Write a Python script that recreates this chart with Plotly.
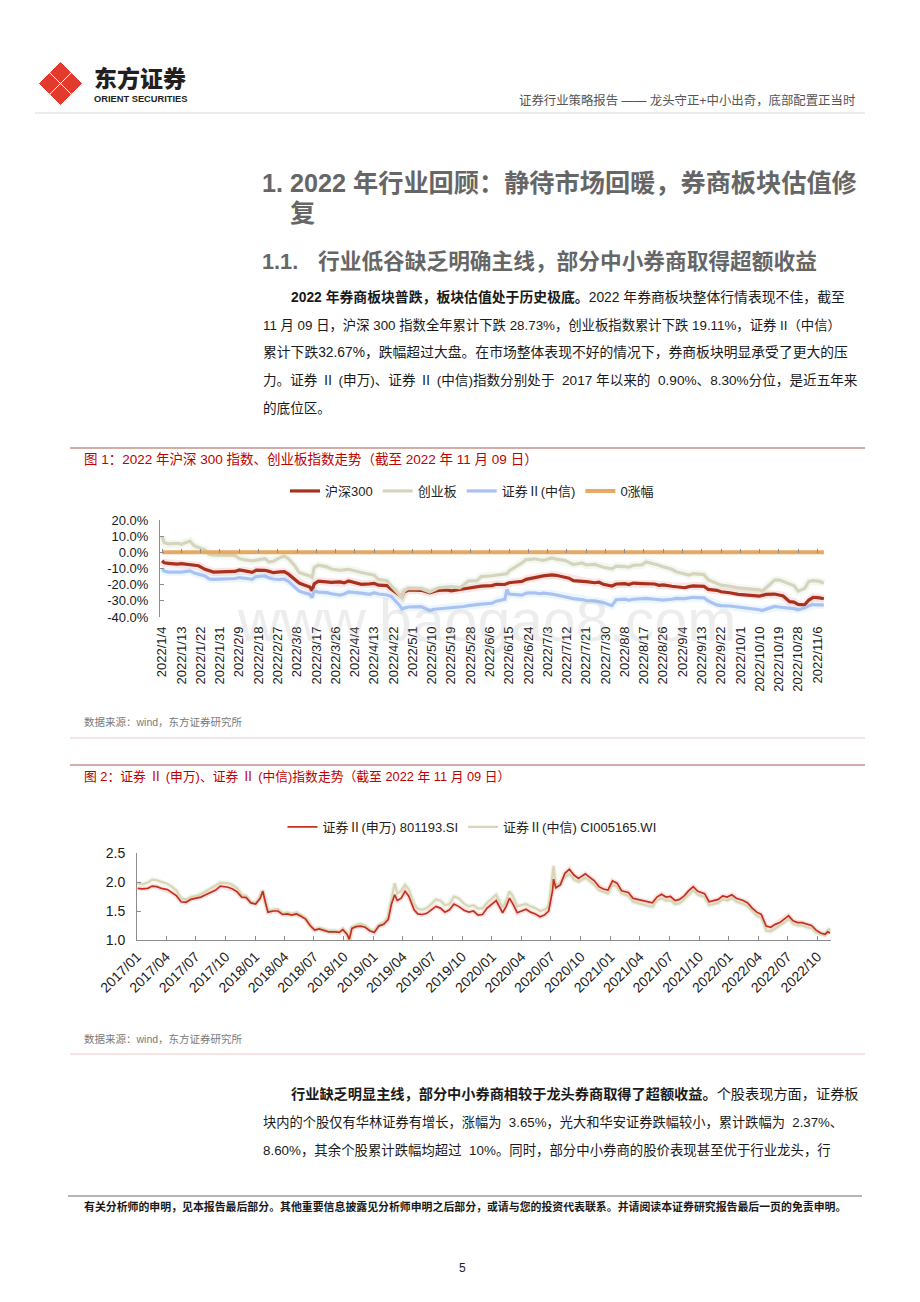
import datetime as dt
import plotly.graph_objects as go

# page is 920x1302; the figure sits 8px in from the top-left corner of the page
OFF = 8
W, H = 920 - OFF, 1302 - OFF
def fx(p): return (p - OFF) / W
def fy(p): return 1 - (p - OFF) / H

TXT = "Liberation Sans, Noto Sans CJK SC"
CJK = "Noto Sans CJK SC, Liberation Sans"

# ---------------- Chart 1 data (2022, % change) ----------------
c1_dates = [
 "2022-01-04","2022-01-05","2022-01-07","2022-01-11","2022-01-13","2022-01-17","2022-01-19","2022-01-21","2022-01-24","2022-01-26","2022-01-28",
 "2022-02-07","2022-02-09","2022-02-11","2022-02-15","2022-02-17","2022-02-21","2022-02-23","2022-02-25","2022-02-28",
 "2022-03-02","2022-03-04","2022-03-07","2022-03-09","2022-03-11","2022-03-14","2022-03-15","2022-03-16","2022-03-18","2022-03-22","2022-03-24","2022-03-28","2022-03-30",
 "2022-04-01","2022-04-07","2022-04-11","2022-04-13","2022-04-15","2022-04-19","2022-04-21","2022-04-25","2022-04-26","2022-04-27","2022-04-29",
 "2022-05-05","2022-05-09","2022-05-11","2022-05-13","2022-05-17","2022-05-19","2022-05-23","2022-05-25","2022-05-27","2022-05-31",
 "2022-06-02","2022-06-07","2022-06-09","2022-06-13","2022-06-14","2022-06-15","2022-06-17","2022-06-21","2022-06-23","2022-06-27","2022-06-29",
 "2022-07-01","2022-07-05","2022-07-07","2022-07-11","2022-07-13","2022-07-15","2022-07-19","2022-07-21","2022-07-25","2022-07-27","2022-07-29",
 "2022-08-02","2022-08-04","2022-08-08","2022-08-10","2022-08-12","2022-08-16","2022-08-18","2022-08-22","2022-08-24","2022-08-26","2022-08-30",
 "2022-09-01","2022-09-05","2022-09-07","2022-09-09","2022-09-14","2022-09-16","2022-09-20","2022-09-22","2022-09-26","2022-09-28","2022-09-30",
 "2022-10-10","2022-10-11","2022-10-13","2022-10-17","2022-10-19","2022-10-21","2022-10-24","2022-10-26","2022-10-28","2022-10-31",
 "2022-11-02","2022-11-04","2022-11-07","2022-11-09",
]
hs300 = [
 -5.2, -6.5, -6.8, -7.3, -7.0, -7.6, -7.9, -8.3, -10.5, -11.6, -12.2,
 -11.8, -10.9, -11.3, -12.4, -11.0, -11.1, -11.8, -12.6, -12.1,
 -12.0, -13.5, -16.5, -19.0, -20.0, -21.5, -23.8, -19.5, -17.8, -18.3, -18.6, -18.3, -18.9,
 -17.7, -19.8, -19.5, -19.2, -20.3, -20.6, -22.8, -26.3, -27.5, -24.5, -23.3,
 -23.5, -25.0, -24.2, -23.6, -23.3, -23.8, -23.0, -22.6, -21.8, -21.2,
 -20.9, -20.6, -19.8, -19.9, -19.4, -18.8, -18.5, -18.0, -16.7, -15.6, -15.0,
 -14.6, -14.0, -14.2, -15.4, -16.0, -17.5, -17.6, -18.1, -18.8, -18.5, -19.8,
 -20.8, -19.6, -19.4, -19.9, -19.0, -19.3, -19.4, -19.6, -20.4, -20.1, -21.0,
 -21.3, -21.9, -21.2, -20.8, -21.0, -22.9, -23.5, -24.4, -25.0, -25.6, -26.0,
 -27.1, -26.8, -26.0, -25.8, -26.2, -27.0, -30.5, -30.8, -32.2, -32.5,
 -29.5, -27.8, -28.2, -28.73,
]
chinext = [
 9.7, 6.0, 5.2, 5.6, 5.0, 7.0, 4.0, 3.2, 1.5, -1.2, -1.8,
 -1.9, -3.9, -4.5, -5.3, -4.8, -3.9, -6.0, -5.5, -3.3,
 -2.3, -4.0, -8.4, -12.5, -13.2, -14.6, -15.6, -9.4, -8.0, -9.0, -10.3, -11.1, -10.8,
 -10.5, -12.5, -13.6, -14.2, -16.7, -17.6, -20.8, -26.2, -28.0, -23.9, -22.3,
 -22.5, -24.5, -23.4, -22.0, -21.5, -21.2, -22.0, -20.0, -17.8, -17.5,
 -15.0, -14.5, -14.0, -13.5, -13.2, -11.5, -10.0, -6.5, -4.5, -4.0, -4.6,
 -5.0, -3.5, -4.2, -5.0, -6.2, -7.5, -6.5, -7.8, -7.5, -8.3, -9.2,
 -10.2, -8.5, -8.8, -9.2, -8.0, -7.8, -6.0, -7.0, -8.0, -9.0, -10.5,
 -12.0, -13.0, -14.0, -13.2, -13.8, -17.0, -19.5, -20.3, -21.0, -21.6, -22.0,
 -23.2, -24.0, -22.0, -17.2, -17.0, -18.0, -19.0, -20.5, -24.0, -22.3,
 -18.0, -17.5, -18.0, -19.11,
]
broker_citic = [
 -10.1, -11.6, -12.3, -12.5, -12.2, -11.5, -12.8, -13.5, -14.6, -16.4, -16.7,
 -16.2, -15.6, -15.9, -16.7, -15.0, -14.6, -15.8, -16.5, -16.7,
 -16.5, -18.0, -21.5, -24.0, -24.8, -26.0, -28.0, -24.0, -24.6, -24.9, -25.6, -26.5, -25.8,
 -24.5, -25.2, -26.0, -25.0, -25.8, -26.4, -27.3, -33.0, -35.1, -34.5, -33.8,
 -33.6, -36.0, -35.2, -35.0, -34.6, -34.2, -33.6, -33.5, -33.0, -32.2,
 -32.0, -31.5, -30.2, -29.0, -23.0, -25.8, -26.0, -26.5, -25.2, -25.0, -25.6,
 -25.2, -25.8, -26.4, -27.2, -27.8, -28.6, -29.2, -29.8, -30.0, -30.4, -31.0,
 -33.0, -29.3, -29.0, -29.6, -29.0, -28.8, -28.5, -29.0, -29.3, -29.5, -29.0,
 -28.5, -28.6, -28.0, -27.8, -28.2, -30.0, -32.5, -33.0, -33.2, -33.5, -33.8,
 -35.5, -36.0, -35.0, -33.5, -33.8, -34.0, -34.6, -34.8, -35.5, -34.5,
 -33.0, -32.3, -32.5, -32.67,
]
zero_pct = [0.0 for _ in c1_dates]

c1_ticklabels = ["2022/1/4","2022/1/13","2022/1/22","2022/1/31","2022/2/9","2022/2/18","2022/2/27",
 "2022/3/8","2022/3/17","2022/3/26","2022/4/4","2022/4/13","2022/4/22","2022/5/1","2022/5/10",
 "2022/5/19","2022/5/28","2022/6/6","2022/6/15","2022/6/24","2022/7/3","2022/7/12","2022/7/21",
 "2022/7/30","2022/8/8","2022/8/17","2022/8/26","2022/9/4","2022/9/13","2022/9/22","2022/10/1",
 "2022/10/10","2022/10/19","2022/10/28","2022/11/6"]
c1_tickvals = [dt.datetime.strptime(s, "%Y/%m/%d").strftime("%Y-%m-%d") for s in c1_ticklabels]
c1_yticks = [-40, -30, -20, -10, 0, 10, 20]
c1_yticklabels = ["-40.0%", "-30.0%", "-20.0%", "-10.0%", "0.0%", "10.0%", "20.0%"]

# ---------------- Chart 2 data (index level) ----------------
c2_dates = [
 "2017-01-03","2017-01-17","2017-02-03","2017-02-17","2017-03-03","2017-03-17","2017-04-05","2017-04-18","2017-05-03","2017-05-17","2017-06-01","2017-06-16",
 "2017-07-03","2017-07-17","2017-08-01","2017-08-16","2017-09-01","2017-09-15","2017-10-09","2017-10-23","2017-11-06","2017-11-20","2017-12-04","2017-12-18",
 "2018-01-02","2018-01-16","2018-01-24","2018-02-01","2018-02-09","2018-02-26","2018-03-12","2018-03-26","2018-04-09","2018-04-23","2018-05-08","2018-05-22","2018-06-05","2018-06-19",
 "2018-07-03","2018-07-17","2018-08-01","2018-08-15","2018-09-03","2018-09-17","2018-09-28","2018-10-11","2018-10-18","2018-10-26","2018-11-08","2018-11-22","2018-12-06","2018-12-20",
 "2019-01-03","2019-01-17","2019-02-01","2019-02-15","2019-02-25","2019-03-07","2019-03-15","2019-03-27","2019-04-08","2019-04-19","2019-05-06","2019-05-17","2019-05-31","2019-06-14",
 "2019-06-28","2019-07-12","2019-07-26","2019-08-09","2019-08-23","2019-09-06","2019-09-20","2019-10-08","2019-10-22","2019-11-05","2019-11-19","2019-12-03","2019-12-17",
 "2020-01-02","2020-01-14","2020-02-03","2020-02-14","2020-02-24","2020-03-06","2020-03-19","2020-04-01","2020-04-15","2020-04-29","2020-05-14","2020-05-28","2020-06-11","2020-06-24",
 "2020-07-06","2020-07-09","2020-07-16","2020-07-30","2020-08-13","2020-08-27","2020-09-10","2020-09-24","2020-10-15","2020-10-29","2020-11-12","2020-11-26","2020-12-10","2020-12-24",
 "2021-01-07","2021-01-21","2021-02-04","2021-02-25","2021-03-11","2021-03-25","2021-04-08","2021-04-22","2021-05-10","2021-05-24","2021-06-07","2021-06-21","2021-07-05",
 "2021-07-19","2021-08-02","2021-08-16","2021-08-30","2021-09-13","2021-09-27","2021-10-18","2021-11-01","2021-11-15","2021-11-29","2021-12-13","2021-12-27",
 "2022-01-10","2022-01-24","2022-02-14","2022-02-28","2022-03-14","2022-03-28","2022-04-11","2022-04-26","2022-05-10","2022-05-24","2022-06-07","2022-06-21",
 "2022-07-04","2022-07-18","2022-08-01","2022-08-15","2022-08-29","2022-09-13","2022-09-27","2022-10-11","2022-10-25","2022-11-02","2022-11-09",
]
broker_sw = [
 1.89,1.88,1.89,1.93,1.92,1.89,1.87,1.82,1.76,1.66,1.65,1.70,
 1.72,1.74,1.78,1.82,1.86,1.93,1.91,1.88,1.83,1.74,1.73,1.64,
 1.62,1.72,1.84,1.65,1.48,1.50,1.50,1.44,1.45,1.43,1.45,1.41,1.36,1.25,
 1.17,1.19,1.16,1.14,1.14,1.13,1.18,1.10,1.01,1.20,1.23,1.24,1.22,1.16,
 1.13,1.24,1.27,1.35,1.62,1.78,1.68,1.72,1.84,1.76,1.52,1.45,1.44,1.46,
 1.52,1.58,1.55,1.48,1.52,1.62,1.58,1.51,1.48,1.50,1.43,1.44,1.55,
 1.62,1.68,1.47,1.58,1.72,1.62,1.47,1.50,1.53,1.48,1.45,1.40,1.43,1.50,
 1.85,2.05,1.90,1.95,2.15,2.22,2.12,2.06,2.14,2.08,2.02,1.92,1.88,1.86,
 2.02,1.98,1.85,1.82,1.72,1.70,1.68,1.66,1.64,1.74,1.79,1.74,1.75,
 1.68,1.70,1.76,1.85,1.92,1.84,1.80,1.66,1.68,1.70,1.76,1.74,
 1.78,1.72,1.68,1.64,1.55,1.48,1.44,1.24,1.22,1.27,1.30,1.36,
 1.42,1.33,1.30,1.30,1.27,1.25,1.17,1.12,1.10,1.14,1.12,
]
broker_citic_idx = [
 1.98,1.96,1.99,2.04,2.03,2.00,1.97,1.92,1.85,1.72,1.70,1.74,
 1.76,1.79,1.84,1.88,1.93,1.99,1.98,1.95,1.89,1.78,1.76,1.66,
 1.64,1.74,1.86,1.67,1.50,1.52,1.53,1.46,1.47,1.45,1.47,1.43,1.38,1.26,
 1.18,1.21,1.18,1.16,1.16,1.15,1.19,1.10,1.01,1.22,1.26,1.28,1.25,1.18,
 1.15,1.26,1.30,1.40,1.70,1.98,1.80,1.85,1.95,1.88,1.62,1.54,1.52,1.55,
 1.62,1.70,1.68,1.60,1.62,1.75,1.72,1.62,1.58,1.60,1.54,1.55,1.64,
 1.72,1.78,1.56,1.68,1.84,1.75,1.58,1.60,1.62,1.58,1.55,1.50,1.52,1.58,
 2.10,2.28,1.95,1.98,2.08,2.14,2.04,2.00,2.07,2.02,1.95,1.86,1.83,1.80,
 1.95,1.92,1.80,1.76,1.66,1.64,1.62,1.60,1.57,1.68,1.72,1.68,1.68,
 1.62,1.63,1.70,1.78,1.86,1.78,1.74,1.60,1.62,1.64,1.70,1.68,
 1.72,1.66,1.62,1.58,1.50,1.42,1.38,1.16,1.15,1.20,1.24,1.30,
 1.37,1.28,1.25,1.25,1.22,1.20,1.13,1.10,1.08,1.16,1.20,
]
c2_ticklabels = [f"{y}/{m:02d}" for y in range(2017, 2023) for m in (1, 4, 7, 10)]
c2_tickvals = [s.replace("/", "-") + "-01" for s in c2_ticklabels]
c2_yticks = [1.0, 1.5, 2.0, 2.5]
c2_yticklabels = ["1.0", "1.5", "2.0", "2.5"]

# ---------------- Figure ----------------
fig = go.Figure()

def glow(x, y, color, width, xa, ya):
    fig.add_trace(go.Scatter(x=x, y=y, mode="lines", showlegend=False, hoverinfo="skip",
                             line=dict(color=color, width=width), xaxis=xa, yaxis=ya))

glow(c1_dates, hs300, "rgba(240,150,150,0.25)", 8, "x", "y")
glow(c1_dates, chinext, "rgba(200,235,200,0.25)", 8, "x", "y")
glow(c1_dates, broker_citic, "rgba(190,225,255,0.30)", 8, "x", "y")

fig.add_trace(go.Scatter(x=c1_dates, y=hs300, name="沪深300", mode="lines",
                         line=dict(color="#a8321e", width=3.2), xaxis="x", yaxis="y", legend="legend"))
fig.add_trace(go.Scatter(x=c1_dates, y=chinext, name="创业板", mode="lines",
                         line=dict(color="#d9d3bd", width=3.2), xaxis="x", yaxis="y", legend="legend"))
fig.add_trace(go.Scatter(x=c1_dates, y=broker_citic, name="证券Ⅱ(中信)", mode="lines",
                         line=dict(color="#a9c2f2", width=3.2), xaxis="x", yaxis="y", legend="legend"))
fig.add_trace(go.Scatter(x=c1_dates, y=zero_pct, name="0涨幅", mode="lines",
                         line=dict(color="#e6a862", width=4), xaxis="x3", yaxis="y", legend="legend"))

glow(c2_dates, broker_citic_idx, "rgba(200,235,200,0.35)", 5, "x2", "y2")
glow(c2_dates, broker_sw, "rgba(250,170,170,0.35)", 5, "x2", "y2")
fig.add_trace(go.Scatter(x=c2_dates, y=broker_citic_idx, name="证券Ⅱ(中信) CI005165.WI", mode="lines",
                         line=dict(color="#ddd4b8", width=2.2), xaxis="x2", yaxis="y2",
                         legend="legend2", legendrank=2))
fig.add_trace(go.Scatter(x=c2_dates, y=broker_sw, name="证券Ⅱ(申万) 801193.SI", mode="lines",
                         line=dict(color="#c0321f", width=1.7), xaxis="x2", yaxis="y2",
                         legend="legend2", legendrank=1))

axis_grey = "#8c8c8c"
tick_font = dict(family=TXT, size=13, color="#1a1a1a")

fig.update_layout(
    template="none",
    font=dict(family=TXT, color="#1a1a1a"),
    width=W, height=H, autosize=False,
    margin=dict(l=0, r=0, t=0, b=0, pad=0),
    paper_bgcolor="white", plot_bgcolor="white",
    hovermode=False,
    xaxis=dict(domain=[fx(160), fx(826)], anchor="y", type="date", automargin=False,
               range=["2022-01-03", "2022-11-10"],
               tickvals=c1_tickvals, ticktext=c1_ticklabels, tickangle=-90,
               ticks="", showline=False, showgrid=False, zeroline=False,
               tickfont=tick_font, ticklabelstandoff=6),
    xaxis3=dict(overlaying="x", matches="x", anchor="free", position=fy(553), type="date",
                automargin=False,
                tickvals=c1_tickvals, showticklabels=False, ticks="inside", ticklen=4,
                tickcolor=axis_grey, showline=False, showgrid=False, zeroline=False),
    yaxis=dict(domain=[fy(617), fy(520)], anchor="x", range=[-40, 20], automargin=False,
               tickvals=c1_yticks, ticktext=c1_yticklabels,
               showline=True, linecolor=axis_grey, linewidth=1,
               ticks="inside", ticklen=4, tickcolor=axis_grey,
               showgrid=False, zeroline=False, tickfont=tick_font, ticklabelstandoff=8),
    xaxis2=dict(domain=[fx(137), fx(831)], anchor="y2", type="date", automargin=False,
                range=["2017-01-01", "2022-11-12"],
                tickvals=c2_tickvals, ticktext=c2_ticklabels, tickangle=-45,
                showline=True, linecolor=axis_grey, linewidth=1,
                ticks="inside", ticklen=4, tickcolor=axis_grey,
                showgrid=False, zeroline=False,
                tickfont=dict(family=TXT, size=14, color="#1a1a1a"), ticklabelstandoff=2),
    yaxis2=dict(domain=[fy(940), fy(853)], anchor="x2", range=[1.0, 2.5], automargin=False,
                tickvals=c2_yticks, ticktext=c2_yticklabels,
                showline=True, linecolor=axis_grey, linewidth=1,
                ticks="inside", ticklen=4, tickcolor=axis_grey,
                showgrid=False, zeroline=False,
                tickfont=dict(family=TXT, size=14, color="#1a1a1a"), ticklabelstandoff=8),
    legend=dict(orientation="h", x=fx(472), xanchor="center", y=fy(491), yanchor="middle",
                font=dict(family=TXT, size=13, color="#222"), bgcolor="rgba(0,0,0,0)",
                itemwidth=30, traceorder="normal"),
    legend2=dict(orientation="h", x=fx(472), xanchor="center", y=fy(827), yanchor="middle",
                 font=dict(family=TXT, size=13, color="#222"), bgcolor="rgba(0,0,0,0)",
                 itemwidth=30, traceorder="normal"),
    showlegend=True,
)

# ---------------- page decoration ----------------
def hline(x0, x1, y, color, width):
    fig.add_shape(type="line", xref="paper", yref="paper",
                  x0=fx(x0), x1=fx(x1), y0=fy(y), y1=fy(y),
                  line=dict(color=color, width=width))

def path(points):
    return "M " + " L ".join(f"{fx(a):.5f},{fy(b):.5f}" for a, b in points) + " Z"

# logo: four red lobes in a diamond
for cx, cy in [(60.5, 72.5), (49.5, 83.5), (71.5, 83.5), (60.5, 94.5)]:
    r = 10
    fig.add_shape(type="path", xref="paper", yref="paper",
                  path=path([(cx, cy - r), (cx + r, cy), (cx, cy + r), (cx - r, cy)]),
                  fillcolor="#e23b2e", line=dict(color="#e23b2e", width=1))

hline(35, 865, 113, "#ececec", 2)
hline(70, 865, 448, "#a85a50", 1)
hline(70, 865, 738, "#f7e3e3", 2)
hline(70, 865, 765, "#a85a50", 1)
hline(70, 865, 1054, "#f7e3e3", 2)
hline(68, 862, 1196, "#6e6e6e", 1)

def txt(x, y, s, size, color="#1a1a1a", anchor="left", family=TXT, weight="normal"):
    fig.add_annotation(x=fx(x), y=fy(y), xref="paper", yref="paper", text=s,
                       showarrow=False, xanchor=anchor, yanchor="middle", align="left",
                       font=dict(family=family, size=size, color=color, weight=weight))

# watermark
fig.add_annotation(x=fx(487), y=fy(621), xref="paper", yref="paper", text="www.baogao8.com",
                   showarrow=False, xanchor="center", yanchor="middle",
                   font=dict(family="Liberation Sans", size=59, color="rgba(175,175,175,0.22)"))

txt(92, 77, "东方证券", 23, "#231f20", family=CJK, weight=900)
txt(92, 99, "ORIENT SECURITIES", 9.3, "#231f20", family="Liberation Sans", weight="bold")
txt(857, 100, "证券行业策略报告 —— 龙头守正+中小出奇，底部配置正当时", 12.4, "#555555", anchor="right")

HEAD = "#666666"
txt(260, 183, "1. 2022 年行业回顾：静待市场回暖，券商板块估值修", 25.2, HEAD, weight="bold")
txt(288, 213, "复", 25.2, HEAD, weight="bold")
txt(260, 262, "1.1.", 21.7, HEAD, weight="bold")
txt(316, 262, "行业低谷缺乏明确主线，部分中小券商取得超额收益", 21.7, HEAD, weight="bold")

para1 = [
    (289, 297, 13.85, "<b>2022 年券商板块普跌，板块估值处于历史极底。</b>2022 年券商板块整体行情表现不佳，截至"),
    (261, 325, 13.35, "11 月 09 日，沪深 300 指数全年累计下跌 28.73%，创业板指数累计下跌 19.11%，证券 II（中信）"),
    (261, 352, 13.8, "累计下跌32.67%，跌幅超过大盘。在市场整体表现不好的情况下，券商板块明显承受了更大的压"),
    (261, 380, 13.6, "力。证券 Ⅱ (申万)、证券 Ⅱ (中信)指数分别处于\u00a0 2017 年以来的\u00a0 0.90%、8.30%分位，是近五年来"),
    (261, 408, 13.6, "的底位区。"),
]
for x, y, s, t in para1:
    txt(x, y, t, s)

RED = "#c00000"
txt(82, 459, "图 1：2022 年沪深 300 指数、创业板指数走势（截至 2022 年 11 月 09 日）", 13.5, RED)
txt(82, 722, "数据来源：wind，东方证券研究所", 10.5, "#7a7a7a")
txt(82, 776, "图 2：证券 Ⅱ (申万)、证券 Ⅱ (中信)指数走势（截至 2022 年 11 月 09 日）", 12.8, RED)
txt(82, 1039, "数据来源：wind，东方证券研究所", 10.5, "#7a7a7a")

para2 = [
    (289, 1094, 14.2, "<b>行业缺乏明显主线，部分中小券商相较于龙头券商取得了超额收益。</b>个股表现方面，证券板"),
    (261, 1122, 13.25, "块内的个股仅有华林证券有增长，涨幅为\u00a0 3.65%，光大和华安证券跌幅较小，累计跌幅为\u00a0 2.37%、"),
    (261, 1150, 13.4, "8.60%，其余个股累计跌幅均超过\u00a0 10%。同时，部分中小券商的股价表现甚至优于行业龙头，行"),
]
for x, y, s, t in para2:
    txt(x, y, t, s)

txt(82, 1206, "有关分析师的申明，见本报告最后部分。其他重要信息披露见分析师申明之后部分，或请与您的投资代表联系。并请阅读本证券研究报告最后一页的免责申明。",
    10.9, "#1a1a1a", weight="bold")
txt(462, 1268, "5", 12, "#222", anchor="center")

fig.write_html("out.html", config={"displayModeBar": False})
